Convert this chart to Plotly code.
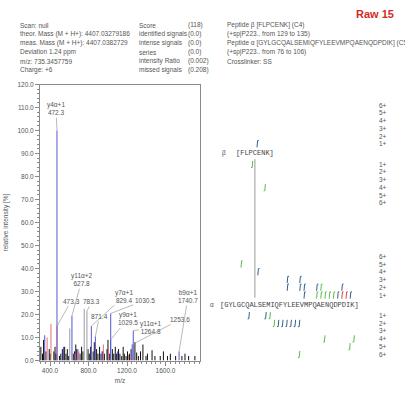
import plotly.graph_objects as go

# ---------------- data ----------------
info_col1 = ["Scan: null", "theor. Mass (M + H+): 4407.03279186", "meas. Mass (M + H+): 4407.0382729",
             "Deviation 1.24 ppm", "m/z: 735.3457759", "Charge: +6"]
info_col2 = ["Score", "identified signals", "intense signals", "series", "intensity Ratio", "missed signals"]
info_col3 = ["(118)", "(0.0)", "(0.0)", "(0.0)", "(0.002)", "(0.208)"]
info_col4 = ["Peptide \u03b2 [FLPCENK] (C4)", "(+sp|P223.. from 129 to 135)",
             "Peptide \u03b1 [GYLGCQALSEMIQFYLEEVMPQAENQDPDIK] (C5)", "(+sp|P223.. from 76 to 106)",
             "Crosslinker: SS"]

black_mz = [305, 322, 333, 358, 392, 402, 440, 452, 462, 498, 512, 528, 552, 566, 580, 594, 642, 655, 668, 678,
            712, 728, 742, 795, 808, 822, 848, 860, 884, 898, 915, 930, 948, 965, 992, 1002, 1016, 1048, 1062, 1078,
            1092, 1112, 1126, 1145, 1160, 1172, 1190, 1205, 1225, 1242, 1282, 1300, 1318, 1340, 1365, 1397, 1412,
            1460, 1490, 1545, 1578, 1620, 1650, 1705, 1770, 1802, 1840, 1905]
black_int = [6, 3, 9, 4, 5, 3, 4, 6, 3, 2, 3, 5, 6, 3, 5, 2, 3, 4, 7, 5,
             3, 6, 4, 5, 3, 6, 4, 8, 5, 3, 6, 3, 4, 3, 5, 9, 3, 5, 3, 6,
             3, 5, 3, 2, 6, 3, 2, 4, 3, 5, 8, 3.5, 2, 4, 7, 2, 3,
             4.5, 2, 2, 4, 2, 3, 2, 2, 3, 2, 2]
gray_mz = [605, 755, 783.3]
gray_int = [14, 22.5, 21.5]
red_mz = [370, 410, 473.3, 660, 700, 954, 1008, 1215]
red_int = [10, 16, 15, 3, 4, 7, 5, 2.5]
blue_mz = [345, 472.3, 540, 627.8, 690, 829.4, 871.4, 940, 1029.5, 1030.5, 1100, 1253.6, 1264.8, 1740.7]
blue_int = [11, 100, 6, 19.5, 5, 15, 10.5, 4, 9, 20.5, 4, 7, 13, 4]

label_mz = [472.3, 473.3, 627.8, 783.3, 829.4, 871.4, 1030.5, 1029.5, 1264.8, 1253.6, 1740.7]
label_int = [100, 15, 19.5, 21.5, 15, 10.5, 20.5, 9, 13, 7, 4]
label_text = ["y4\u03b1+1<br>472.3", "473.3", "y11\u03b1+2<br>627.8", "783.3", "y7\u03b1+1<br>829.4", "871.4",
              "1030.5", "y9\u03b1+1<br>1029.5", "y11\u03b1+1<br>1264.8", "1253.6", "b9\u03b1+1<br>1740.7"]

x_ticks = [400, 800, 1200, 1600]

beta_seq = "FLPCENK"
alpha_seq = "GYLGCQALSEMIQFYLEEVMPQAENQDPDIK"
beta_link = 4
charge_labels = ["1+", "2+", "3+", "4+", "5+", "6+"]

beta_up_site = [4]
beta_up_z = [1]
beta_up_kind = ["b"]
beta_dn_site = [3, 6]
beta_dn_z = [1, 4]
beta_dn_kind = ["g", "g"]

alpha_up_site = [4, 8, 15, 15, 18, 18, 19, 19, 22, 23, 28, 22, 23, 24, 25, 26, 27, 28, 29, 30]
alpha_up_z = [5, 4, 3, 2, 3, 2, 2, 1, 2, 2, 2, 1, 1, 1, 1, 1, 1, 1, 1, 1]
alpha_up_kind = ["g", "b", "b", "b", "b", "b", "b", "b", "b", "g", "b", "g", "g", "g", "g", "g", "b", "r", "r", "b"]
alpha_dn_site = [6, 10, 11, 12, 13, 14, 15, 16, 17, 18, 24, 31, 30, 18]
alpha_dn_z = [1, 1, 1, 2, 2, 2, 2, 2, 2, 2, 4, 4, 5, 6]
alpha_dn_kind = ["b", "b", "g", "g", "b", "b", "b", "b", "b", "b", "g", "g", "g", "g"]

# ---------------- layout / style ----------------
W, H = 405, 397
FONT = "Liberation Sans, Arial, sans-serif"
TXT = "#555555"
AX = "#8a8a8a"
SZ = 6.5
def pxx(x): return x / W
def pyy(y): return 1 - y / H

PLOT_L, PLOT_R, PLOT_T, PLOT_B = 40, 200, 82, 363
XR = [296, 1958]
YR = [0, 120]

label_dx = [-1, 14, 10, 5, 33, 4, 34, 17, 18, 48, 9]
label_dy = [-22, -25, -36, -10, -30, -20, -13, -21, -3, -25, -55]

COL = {"b": "#2f6290", "g": "#62b84a", "r": "#e5403a"}

fig = go.Figure()

def stems(mz, it):
    xs, ys = [], []
    for m, v in zip(mz, it):
        xs += [m, m, None]
        ys += [0, v, None]
    return xs, ys

for mz, it, c in [(black_mz, black_int, "#111111"), (gray_mz, gray_int, "#9a9aa8"),
                  (red_mz, red_int, "#e66f72"), (blue_mz, blue_int, "#5656d2")]:
    xs, ys = stems(mz, it)
    fig.add_trace(go.Scatter(x=xs, y=ys, mode="lines", line=dict(color=c, width=1),
                             hoverinfo="skip", showlegend=False, xaxis="x", yaxis="y"))

annotations = []
for m, v, t, dx, dy in zip(label_mz, label_int, label_text, label_dx, label_dy):
    annotations.append(dict(x=m, y=v, xref="x", yref="y", text=t, showarrow=True, arrowhead=0,
                            arrowwidth=0.6, arrowcolor="#8c8c8c", ax=dx, ay=dy, standoff=0,
                            font=dict(family=FONT, size=SZ, color=TXT), align="center"))

# header text
ROW_Y0, ROW_DY = 21.5, 9.2
for col, x0 in [(info_col1, 18), (info_col2, 137), (info_col3, 186), (info_col4, 225)]:
    for i, t in enumerate(col):
        annotations.append(dict(x=pxx(x0), y=pyy(ROW_Y0 + i * ROW_DY), xref="paper", yref="paper", text=t,
                                showarrow=False, xanchor="left", yanchor="middle",
                                font=dict(family=FONT, size=SZ, color=TXT)))
annotations.append(dict(x=pxx(396), y=pyy(10), xref="paper", yref="paper", text="<b>Raw 15</b>",
                        showarrow=False, xanchor="right", yanchor="middle",
                        font=dict(family="Liberation Sans, Arial", size=11, color="#d42a25")))

# ----- fragment map (right panel), in pixel-like units of x2/y2 -----
SEQ_FS = 7.0
CW = 0.6 * SEQ_FS
BETA_X0, BETA_Y = 236, 152
ALPHA_X0, ALPHA_Y = 220, 306
GAP_UP, GAP_DN, STEP = 9.5, 11.0, 7.9
CHARGE_X = 383

def seq_ann(x0, y, seq):
    s = "[" + seq + "]"
    return dict(x=x0 + CW * len(s) / 2, y=y, xref="x2", yref="y2", text=s, showarrow=False,
                xanchor="center", yanchor="middle",
                font=dict(family="Liberation Mono, Courier New, monospace", size=SEQ_FS, color="#444444"))

annotations.append(seq_ann(BETA_X0, BETA_Y, beta_seq))
annotations.append(seq_ann(ALPHA_X0, ALPHA_Y, alpha_seq))
annotations.append(dict(x=BETA_X0 - 12, y=BETA_Y, xref="x2", yref="y2", text="\u03b2", showarrow=False,
                        font=dict(family=FONT, size=SZ, color=TXT)))
annotations.append(dict(x=ALPHA_X0 - 8, y=ALPHA_Y, xref="x2", yref="y2", text="\u03b1", showarrow=False,
                        font=dict(family=FONT, size=SZ, color=TXT)))
for row_y in [BETA_Y, ALPHA_Y]:
    for i, lab in enumerate(charge_labels):
        annotations.append(dict(x=CHARGE_X, y=row_y - GAP_UP - i * STEP, xref="x2", yref="y2", text=lab,
                                showarrow=False, font=dict(family=FONT, size=SZ, color=TXT)))
        annotations.append(dict(x=CHARGE_X, y=row_y + GAP_DN + i * STEP, xref="x2", yref="y2", text=lab,
                                showarrow=False, font=dict(family=FONT, size=SZ, color=TXT)))

# cross-link line
link_x = BETA_X0 + CW * (beta_link + 0.5)
fig.add_trace(go.Scatter(x=[link_x, link_x], y=[BETA_Y + 6, ALPHA_Y - 7], mode="lines",
                         line=dict(color="#9a9a9a", width=1), hoverinfo="skip", showlegend=False,
                         xaxis="x2", yaxis="y2"))

segs = {k: ([], []) for k in COL}
def add_marks(x0, row_y, sites, zs, kinds, up):
    for s, z, k in zip(sites, zs, kinds):
        x = x0 + CW * (s + 1)
        xs, ys = segs[k]
        if up:
            yc = row_y - GAP_UP - (z - 1) * STEP
            xs += [x, x, x + 0.6, x + 1.8, None]
            ys += [yc + 3.4, yc - 2.6, yc - 3.4, yc - 3.5, None]
        else:
            yc = row_y + GAP_DN + (z - 1) * STEP
            xs += [x, x, x - 0.6, x - 1.8, None]
            ys += [yc - 3.4, yc + 2.6, yc + 3.4, yc + 3.5, None]

add_marks(BETA_X0, BETA_Y, beta_up_site, beta_up_z, beta_up_kind, True)
add_marks(BETA_X0, BETA_Y, beta_dn_site, beta_dn_z, beta_dn_kind, False)
add_marks(ALPHA_X0, ALPHA_Y, alpha_up_site, alpha_up_z, alpha_up_kind, True)
add_marks(ALPHA_X0, ALPHA_Y, alpha_dn_site, alpha_dn_z, alpha_dn_kind, False)
for k, (xs, ys) in segs.items():
    fig.add_trace(go.Scatter(x=xs, y=ys, mode="lines", line=dict(color=COL[k], width=1),
                             hoverinfo="skip", showlegend=False, xaxis="x2", yaxis="y2"))

tickfont = dict(family=FONT, size=SZ, color=TXT)
fig.update_layout(
    width=W, height=H, margin=dict(l=0, r=0, t=0, b=0),
    paper_bgcolor="white", plot_bgcolor="rgba(0,0,0,0)",
    annotations=annotations,
    xaxis=dict(domain=[pxx(PLOT_L), pxx(PLOT_R)], range=XR, anchor="y",
               tickvals=x_ticks, tickformat=".1f", ticks="outside", ticklen=4, tickcolor=AX,
               showline=True, linecolor=AX, linewidth=1, mirror=True, showgrid=False, zeroline=False,
               tickfont=tickfont, minor=dict(ticks="outside", ticklen=2, dtick=50, tickcolor=AX),
               title=dict(text="m/z", font=tickfont, standoff=5)),
    yaxis=dict(domain=[pyy(PLOT_B), pyy(PLOT_T)], range=YR, anchor="x",
               dtick=10, tickformat=".1f", ticks="outside", ticklen=4, tickcolor=AX,
               showline=True, linecolor=AX, linewidth=1, mirror=True, showgrid=False, zeroline=False,
               tickfont=tickfont, minor=dict(ticks="outside", ticklen=2, dtick=2, tickcolor=AX),
               title=dict(text="relative intensity [%]", font=tickfont, standoff=8)),
    xaxis2=dict(domain=[0, 1], range=[0, W], anchor="y2", visible=False, fixedrange=True),
    yaxis2=dict(domain=[0, 1], range=[H, 0], anchor="x2", visible=False, fixedrange=True),
)

fig.write_html("out.html", config={"displayModeBar": False},
               post_script="document.body.style.margin='0px';document.body.style.overflow='hidden';")
